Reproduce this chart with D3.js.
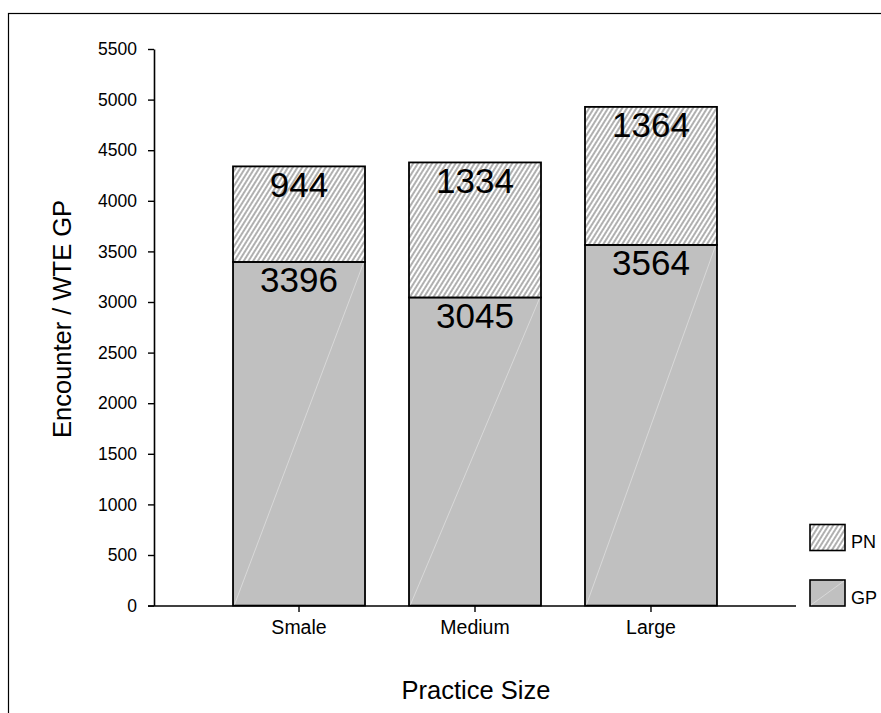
<!DOCTYPE html>
<html>
<head>
<meta charset="utf-8">
<script src="https://cdn.jsdelivr.net/npm/d3@7"></script>
<style>
  html, body { margin: 0; padding: 0; background: #fff; }
  svg { display: block; font-family: "Liberation Sans", Arial, sans-serif; }
</style>
</head>
<body>
<svg id="chart" width="881" height="713"></svg>
<script>
// Encounters per WTE GP, split by clinician type, for each practice size
const categories = ["Smale", "Medium", "Large"];
const gpValues = [3396, 3045, 3564];
const pnValues = [944, 1334, 1364];
const seriesNames = ["PN", "GP"];
const yTicks = [0, 500, 1000, 1500, 2000, 2500, 3000, 3500, 4000, 4500, 5000, 5500];

const svg = d3.select("#chart");

// Hatch pattern for the PN segments
const defs = svg.append("defs");
const hatch = defs.append("pattern")
  .attr("id", "hatch")
  .attr("patternUnits", "userSpaceOnUse")
  .attr("width", 4)
  .attr("height", 4)
  .attr("patternTransform", "rotate(32)");
hatch.append("rect").attr("width", 4).attr("height", 4).attr("fill", "#fff");
hatch.append("line")
  .attr("x1", 1).attr("y1", 0).attr("x2", 1).attr("y2", 4)
  .attr("stroke", "#444").attr("stroke-width", 0.85);

// Outer frame
svg.append("rect")
  .attr("x", 8.5).attr("y", 13.5)
  .attr("width", 900).attr("height", 720)
  .attr("fill", "none").attr("stroke", "#000").attr("stroke-width", 1.2);

const x = d3.scaleBand()
  .domain(categories)
  .range([154, 796])
  .paddingInner(0.25)
  .paddingOuter(0.449);

const y = d3.scaleLinear()
  .domain([0, 5500])
  .range([605.6, 49]);

const rows = categories.map((c, i) => ({ cat: c, gp: gpValues[i], pn: pnValues[i] }));
const stack = d3.stack().keys(["gp", "pn"])(rows);

const fills = { gp: "#c0c0c0", pn: "url(#hatch)" };

// Stacked bars
stack.forEach(layer => {
  const g = svg.append("g");
  g.selectAll("rect")
    .data(layer)
    .join("rect")
    .attr("x", d => x(d.data.cat))
    .attr("y", d => y(d[1]))
    .attr("width", x.bandwidth())
    .attr("height", d => y(d[0]) - y(d[1]))
    .attr("fill", fills[layer.key])
    .attr("stroke", "#000")
    .attr("stroke-width", 1.8);
  if (layer.key === "gp") {
    // faint diagonal sheen across the solid fill
    g.selectAll("line")
      .data(layer)
      .join("line")
      .attr("x1", d => x(d.data.cat) + 1.5)
      .attr("y1", d => y(d[0]) - 1)
      .attr("x2", d => x(d.data.cat) + x.bandwidth() - 1.5)
      .attr("y2", d => y(d[1]) + 1)
      .attr("stroke", "#dedede")
      .attr("stroke-width", 0.8);
  }
});

// Value labels at the top of each segment
stack.forEach(layer => {
  svg.append("g")
    .selectAll("text")
    .data(layer)
    .join("text")
    .attr("x", d => x(d.data.cat) + x.bandwidth() / 2)
    .attr("y", d => y(d[1]) + 30.5)
    .attr("text-anchor", "middle")
    .attr("font-size", 35)
    .attr("fill", "#000")
    .text(d => d.data[layer.key]);
});

// Y axis
const yAxis = svg.append("g")
  .attr("transform", "translate(154,0)")
  .call(d3.axisLeft(y).tickValues(yTicks).tickSize(6).tickSizeOuter(0).tickPadding(11).tickFormat(d3.format("d")));
yAxis.select(".domain").attr("stroke-width", 1.6);
yAxis.selectAll(".tick line").attr("stroke-width", 1.4);
yAxis.selectAll("text").attr("font-size", 17.5).attr("font-family", "Liberation Sans, Arial, sans-serif").attr("fill", "#000");

// X axis
const xAxis = svg.append("g")
  .attr("transform", "translate(0,606)")
  .call(d3.axisBottom(x).tickSize(6).tickSizeOuter(0).tickPadding(8));
xAxis.select(".domain").attr("stroke-width", 1.6).attr("d", "M148,0H796");
xAxis.selectAll(".tick line").attr("stroke-width", 1.4);
xAxis.selectAll("text").attr("font-size", 19.5).attr("font-family", "Liberation Sans, Arial, sans-serif").attr("fill", "#000");

// Axis titles
svg.append("text")
  .attr("x", 476).attr("y", 699)
  .attr("text-anchor", "middle")
  .attr("font-size", 25.5)
  .text("Practice Size");

svg.append("text")
  .attr("transform", "translate(71,438) rotate(-90)")
  .attr("text-anchor", "start")
  .attr("font-size", 25.5)
  .text("Encounter / WTE GP");

// Legend
const legend = svg.append("g");
const legendY = { PN: 524.5, GP: 580 };
seriesNames.forEach(name => {
  const key = name.toLowerCase();
  const ly = legendY[name];
  legend.append("rect")
    .attr("x", 810).attr("y", ly)
    .attr("width", 35).attr("height", 26)
    .attr("fill", fills[key])
    .attr("stroke", "#000").attr("stroke-width", 1.6);
  if (key === "gp") {
    legend.append("line")
      .attr("x1", 811).attr("y1", ly + 25)
      .attr("x2", 844).attr("y2", ly + 1)
      .attr("stroke", "#dedede").attr("stroke-width", 0.8);
  }
  legend.append("text")
    .attr("x", 851).attr("y", ly + 23.5)
    .attr("font-size", 18)
    .text(name);
});
</script>
</body>
</html>
